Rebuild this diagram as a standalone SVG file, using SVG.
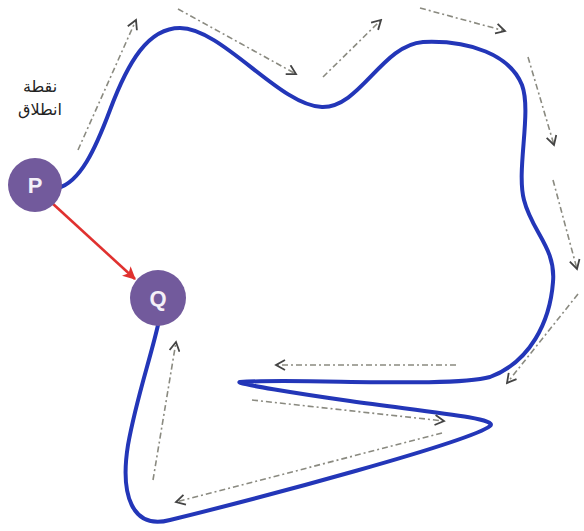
<svg xmlns="http://www.w3.org/2000/svg" width="584" height="531" viewBox="0 0 584 531">
<style>
.route{fill:none;stroke:#2336b8;stroke-width:4;stroke-linecap:round;stroke-linejoin:round}
.guide{fill:none;stroke:#8a8a80;stroke-width:1.6;stroke-dasharray:6 3 2 3;marker-end:url(#chev)}
.node circle{fill:#725a9c}
.node text{font-family:"Liberation Sans",Arial,sans-serif;font-weight:bold;font-size:22px;fill:#f4f0f8;text-anchor:middle}
.label{font-family:"Noto Sans","DejaVu Sans",sans-serif;font-size:16px;fill:#222;text-anchor:middle}
</style>
<defs>
<marker id="chev" viewBox="0 0 12 12" refX="10" refY="6" markerWidth="12" markerHeight="12" markerUnits="userSpaceOnUse" orient="auto">
<path d="M1 1 L10 6 L1 11" fill="none" stroke="#444" stroke-width="1.8"/>
</marker>
<marker id="redhead" viewBox="0 0 12 12" refX="11" refY="6" markerWidth="13" markerHeight="13" markerUnits="userSpaceOnUse" orient="auto">
<path d="M0 0 L12 6 L0 12 L3 6 Z" fill="#e0312f"/>
</marker>
</defs>
<g id="connectors">
<path id="route" class="route" d="M58 188 C80 182 95 150 110 110 C128 62 148 28 180 28 C222 28 280 106 322 107 C360 108 382 45 423 42 C470 40 510 55 522 85 C532 112 516 170 524 200 C532 232 556 248 553 282 C550 322 530 362 490 377 C450 388 300 378 240 382 C232 383 300 394 350 401 C420 411 500 418 490 426 C470 442 260 498 170 520 C132 530 120 495 128 445 C136 400 150 360 158 325"/>
<path id="p-to-q" d="M52 203 L135 279" stroke="#e0312f" stroke-width="2.6" fill="none" marker-end="url(#redhead)"/>
<path class="guide" d="M78 150 L136 20"/>
<path class="guide" d="M178 9 L296 74"/>
<path class="guide" d="M323 77 L381 20"/>
<path class="guide" d="M420 8 L505 31"/>
<path class="guide" d="M528 57 L554 145"/>
<path class="guide" d="M553 180 L577 269"/>
<path class="guide" d="M578 294 L507 383"/>
<path class="guide" d="M456 365 L276 365"/>
<path class="guide" d="M252 400 L444 421"/>
<path class="guide" d="M442 433 L176 502"/>
<path class="guide" d="M153 480 L176 342"/>
</g>
<g id="P" class="node"><circle cx="35" cy="185" r="27"/><text x="35" y="193">P</text></g>
<g id="Q" class="node"><circle cx="158" cy="298" r="28"/><text x="158" y="306">Q</text></g>
<g id="start-label">
<text class="label" x="40" y="92" direction="rtl">نقطة</text>
<text class="label" x="40" y="115" direction="rtl">انطلاق</text>
</g>
</svg>
